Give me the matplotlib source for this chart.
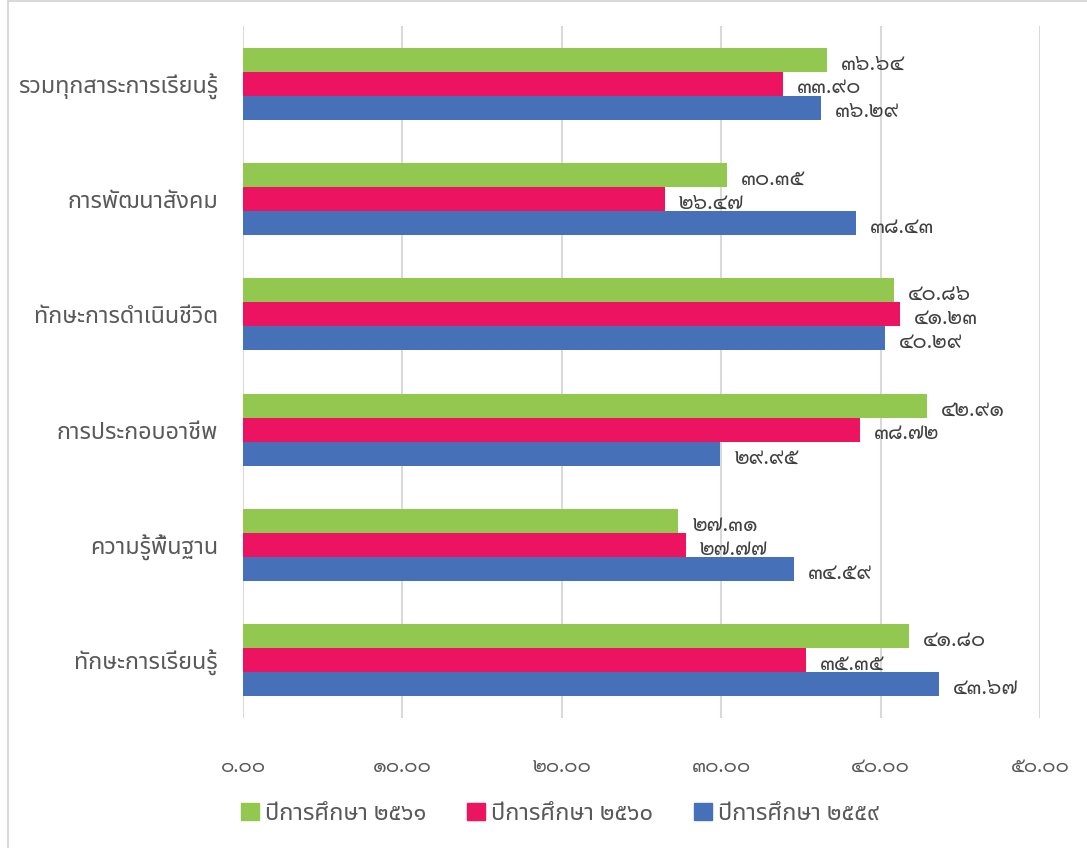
import matplotlib
matplotlib.use("Agg")
import matplotlib.pyplot as plt
from matplotlib.patches import Rectangle
from matplotlib.ticker import FixedLocator, FixedFormatter
import numpy as np

# ---------------- data ----------------
categories = ["ทักษะการเรียนรู้", "ความรู้พื้นฐาน", "การประกอบอาชีพ",
              "ทักษะการดำเนินชีวิต", "การพัฒนาสังคม", "รวมทุกสาระการเรียนรู้"]
series_names = ["ปีการศึกษา ๒๕๖๑", "ปีการศึกษา ๒๕๖๐", "ปีการศึกษา ๒๕๕๙"]
values_2561 = [41.80, 27.31, 42.91, 40.86, 30.35, 36.64]
values_2560 = [35.35, 27.77, 38.72, 41.23, 26.47, 33.90]
values_2559 = [43.67, 34.59, 29.95, 40.29, 38.43, 36.29]
x_ticks = [0, 10, 20, 30, 40, 50]
x_tick_labels = ["๐.๐๐", "๑๐.๐๐", "๒๐.๐๐", "๓๐.๐๐", "๔๐.๐๐", "๕๐.๐๐"]

colors = ["#92C850", "#EC1360", "#4670B8"]
THAI_DIGITS = str.maketrans("0123456789", "๐๑๒๓๔๕๖๗๘๙")

label_font = ["Noto Sans Thai", "DejaVu Sans"]
digit_font = ["Sarabun", "DejaVu Sans"]

W, H = 1087, 848
fig = plt.figure(figsize=(W / 100, H / 100), dpi=100)

# outer chart frame (only top/left visible in reference)
fig.patches.append(Rectangle((8 / W, -0.05), 1.1, 1 - 1 / H + 0.05, transform=fig.transFigure,
                             fill=False, edgecolor="#D9D9D9", linewidth=1.5, zorder=0))

ax_l, ax_r = 243 / W, 1040 / W
ax_t, ax_b = 1 - 26 / H, 1 - 718 / H
ax = fig.add_axes([ax_l, ax_b, ax_r - ax_l, ax_t - ax_b])

y = np.arange(len(categories))
bh = 0.208
series = [values_2561, values_2560, values_2559]
offsets = [bh, 0, -bh]
for vals, off, col in zip(series, offsets, colors):
    bars = ax.barh(y + off, vals, height=bh, color=col, zorder=3)
    for b, v in zip(bars, vals):
        ax.annotate(f"{v:.2f}".translate(THAI_DIGITS),
                    xy=(b.get_width(), b.get_y() + b.get_height() / 2),
                    xytext=(10, -3), textcoords="offset points",
                    ha="left", va="center", fontsize=15.5, color="#404040",
                    family=digit_font)

ax.set_xlim(0, 50)
ax.set_ylim(-0.5, len(categories) - 0.5)
ax.xaxis.set_major_locator(FixedLocator(x_ticks))
ax.xaxis.set_major_formatter(FixedFormatter(x_tick_labels))
ax.set_yticks(y)
ax.set_yticklabels(categories)
for t in ax.get_yticklabels():
    t.set_family(label_font)
    t.set_fontsize(16.8)
    t.set_color("#595959")
for t in ax.get_xticklabels():
    t.set_family(digit_font)
    t.set_fontsize(14.5)
    t.set_color("#595959")
ax.tick_params(axis="x", length=0, pad=29)
ax.tick_params(axis="y", length=0, pad=18)
ax.grid(axis="x", color="#D9D9D9", linewidth=1.5, zorder=0)
for s in ax.spines.values():
    s.set_visible(False)

handles = [Rectangle((0, 0), 1, 1, color=c) for c in colors]
leg = fig.legend(handles, series_names, loc="center", ncol=3,
                 bbox_to_anchor=(560 / W, 1 - 814 / H), frameon=False,
                 prop={"family": label_font, "size": 17},
                 handlelength=0.75, handleheight=0.75, handletextpad=0.25,
                 columnspacing=1.75, labelcolor="#595959")

fig.savefig("out.png", dpi=100)
